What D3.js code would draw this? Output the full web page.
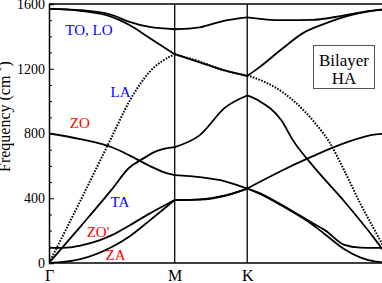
<!DOCTYPE html>
<html><head><meta charset="utf-8">
<script src="https://cdn.jsdelivr.net/npm/d3@7"></script>
</head>
<body style="margin:0;background:#fff">
<svg id="chart" width="382" height="283" style="display:block"></svg>
<script>
// high-symmetry path positions (Γ–M–K–Γ, reduced path length)
const symLabels = ["Γ", "M", "K", "Γ"];
const symPos = [0, 1, 1.577, 2.732];
const yTicks = [0, 400, 800, 1200, 1600];
const yMinorTicks = d3.range(0, 1601, 100);

// branches: [path position, frequency cm^-1]
const TO1 = [[0,1570],[0.25,1562],[0.5,1532],[0.64,1490],[0.8,1458],[1,1444],[1.2,1456],[1.4,1498],[1.577,1518],[1.85,1500],[2.1,1502],[2.35,1530],[2.6,1562],[2.732,1570]];
const TO2 = [[0,1570],[0.25,1558],[0.5,1520],[0.64,1470],[0.8,1390],[1,1290],[1.2,1240],[1.4,1190],[1.577,1155],[1.675,1210],[1.85,1320],[2.02,1420],[2.2,1480],[2.35,1520],[2.6,1560],[2.732,1570]];
const LA  = [[0,0],[0.25,385],[0.5,780],[0.64,1000],[0.8,1180],[1,1290],[1.2,1244],[1.4,1188],[1.577,1160],[1.85,1060],[2.1,880],[2.236,740],[2.35,570],[2.475,370],[2.6,190],[2.732,0]];
const TA  = [[0,0],[0.25,225],[0.5,455],[0.64,590],[0.73,636],[0.85,690],[1,716],[1.2,790],[1.4,960],[1.577,1035],[1.675,1000],[1.85,880],[1.94,759],[2.1,600],[2.35,380],[2.6,140],[2.732,0]];
const ZO  = [[0,800],[0.25,765],[0.5,715],[0.64,665],[0.8,600],[0.9,565],[1,543],[1.2,530],[1.4,505],[1.577,460],[1.675,500],[1.85,570],[2.1,660],[2.35,740],[2.6,795],[2.732,800]];
const ZOp = [[0,93],[0.17,97],[0.25,108],[0.4,140],[0.5,172],[0.64,232],[0.8,305],[1,389],[1.2,393],[1.4,418],[1.577,460],[1.675,432],[1.85,360],[2.1,245],[2.2,200],[2.35,112],[2.475,95],[2.6,93],[2.732,93]];
const ZA  = [[0,0],[0.25,24],[0.5,99],[0.64,164],[0.8,262],[1,389],[1.2,391],[1.4,414],[1.577,460],[1.675,428],[1.85,355],[2.1,235],[2.2,175],[2.35,85],[2.475,35],[2.6,8],[2.732,0]];

const solidBranches = [TO1, TO2, TA, ZO, ZOp, ZA];
const dottedBranches = [LA];

const modeLabels = [
  {t:"TO, LO", q:0.13, f:1410, c:"#0000ff"},
  {t:"LA", q:0.49, f:1025, c:"#0000ff"},
  {t:"ZO", q:0.165, f:835, c:"#ff0000"},
  {t:"TA", q:0.49, f:345, c:"#0000ff"},
  {t:"ZO'", q:0.3, f:160, c:"#ff0000"},
  {t:"ZA", q:0.45, f:20, c:"#ff0000"}
];

const FONT = '"Times New Roman"';
const svg = d3.select("#chart");
const L = 49, R = 392.4, T = 4, B = 263;
const x = d3.scaleLinear().domain([0, 2.732]).range([L, R]);
const y = d3.scaleLinear().domain([0, 1600]).range([B, T]);

svg.append("defs").append("clipPath").attr("id","clip")
  .append("rect").attr("x",L).attr("y",T).attr("width",R-L).attr("height",B-T);

const g = svg.append("g").attr("clip-path","url(#clip)");

function split(pts){
  const out=[];
  for(let i=0;i<symPos.length-1;i++){
    out.push(pts.filter(p=>p[0]>=symPos[i]-1e-9 && p[0]<=symPos[i+1]+1e-9));
  }
  return out;
}
const line = d3.line().x(d=>x(d[0])).y(d=>y(d[1])).curve(d3.curveMonotoneX);

// vertical lines at M, K
g.selectAll("line.sym").data(symPos.slice(1,3)).enter().append("line")
  .attr("x1",d=>x(d)).attr("x2",d=>x(d)).attr("y1",T).attr("y2",B)
  .attr("stroke","#000").attr("stroke-width",1.3);

dottedBranches.forEach(b=>{
  split(b).forEach(s=>{
    g.append("path").attr("d",line(s)).attr("fill","none")
      .attr("stroke","#000").attr("stroke-width",2).attr("stroke-dasharray","1.6,1.4");
  });
});
solidBranches.forEach(b=>{
  split(b).forEach(s=>{
    g.append("path").attr("d",line(s)).attr("fill","none")
      .attr("stroke","#000").attr("stroke-width",1.8);
  });
});

// frame
svg.append("line").attr("x1",L).attr("x2",382).attr("y1",T).attr("y2",T).attr("stroke","#000").attr("stroke-width",1.5);
svg.append("line").attr("x1",L).attr("x2",382).attr("y1",B).attr("y2",B).attr("stroke","#000").attr("stroke-width",1.5);

// y axis
const yAxis = svg.append("g").attr("transform",`translate(${L},0)`)
  .call(d3.axisLeft(y).tickValues(yTicks).tickSize(-5).tickPadding(4).tickFormat(d3.format("d")));
yAxis.select(".domain").attr("stroke","#000").attr("stroke-width",1.5);
yAxis.selectAll("text").style("font-size","14px").attr("fill","#000");
const yMinor = svg.append("g").attr("transform",`translate(${L},0)`)
  .call(d3.axisLeft(y).tickValues(yMinorTicks.filter(v=>!yTicks.includes(v))).tickSize(-3).tickFormat(""));
yMinor.select(".domain").remove();

// x axis labels
const xAxis = svg.append("g").attr("transform",`translate(0,${B})`)
  .call(d3.axisBottom(x).tickValues(symPos.slice(0,3)).tickSize(0).tickPadding(7)
    .tickFormat((d,i)=>symLabels[i]));
xAxis.select(".domain").remove();
xAxis.selectAll("text").style("font-size","16px").attr("fill","#000");

// y label (partly cut at the left edge, as in the reference)
const yl = svg.append("text").attr("transform","translate(10,172) rotate(-90)")
  .style("font-size","16px").attr("fill","#000");
yl.append("tspan").text("Frequency (cm");
yl.append("tspan").attr("dy",-9).style("font-size","11px").text("-1");
yl.append("tspan").attr("dy",9).text(")");

// mode labels
svg.selectAll("text.mode").data(modeLabels).enter().append("text")
  .attr("x",d=>x(d.q)).attr("y",d=>y(d.f))
  .attr("fill",d=>d.c).style("font-size","15px")
  .text(d=>d.t);

// legend box
svg.append("rect").attr("x",313.5).attr("y",45.5).attr("width",61).attr("height",43)
  .attr("fill","#fff").attr("stroke","#555").attr("stroke-width",1);
svg.append("text").attr("x",344).attr("y",65.5).attr("text-anchor","middle")
  .style("font-size","17px").text("Bilayer");
svg.append("text").attr("x",344).attr("y",83.5).attr("text-anchor","middle")
  .style("font-size","17px").text("HA");

svg.selectAll("text").style("font-family", FONT);
</script>
</body></html>
